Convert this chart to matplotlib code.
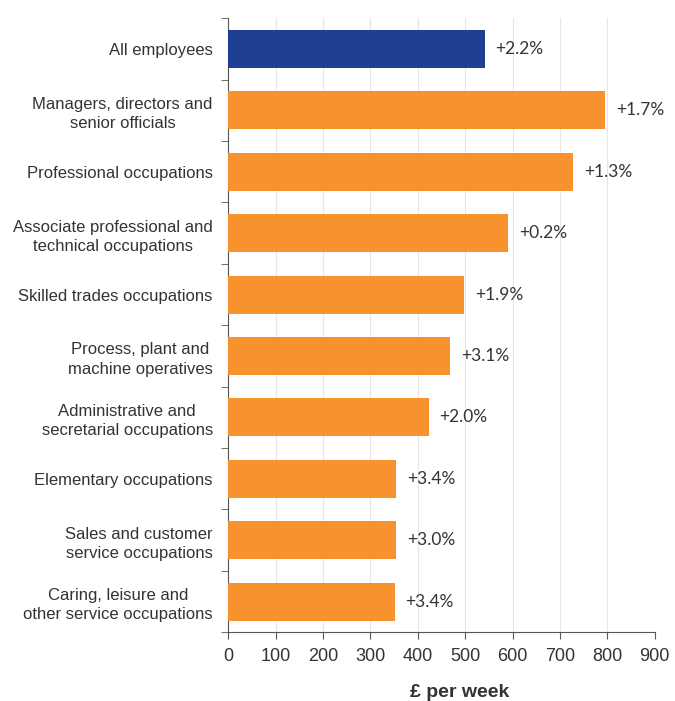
import numpy as np
from matplotlib import pyplot as plt

categories = [
	"All employees",
	"Managers, directors and\nsenior officials",
	"Professional occupations",
	"Associate professional and\ntechnical occupations",
	"Skilled trades occupations",
	"Process, plant and\nmachine operatives",
	"Administrative and\nsecretarial occupations",
	"Elementary occupations",
	"Sales and customer\nservice occupations",
	"Caring, leisure and\nother service occupations",
]
weekly_pay = [541, 796, 727, 591, 498, 469, 423, 355, 355, 351]
growth = ["+2.2%", "+1.7%", "+1.3%", "+0.2%", "+1.9%", "+3.1%", "+2.0%", "+3.4%", "+3.0%", "+3.4%"]

NAVY = "#1f3f94"
ORANGE = "#f7922f"
TEXT = "#333333"

fig = plt.figure(figsize=(6.75, 7.01), dpi=100)
ax = fig.add_axes([0.338, 0.098, 0.632, 0.876])

y = np.arange(len(categories))
colors = [NAVY] + [ORANGE] * (len(categories) - 1)
ax.barh(y, weekly_pay, height=0.62, color=colors, zorder=3)

for yi, v, g in zip(y, weekly_pay, growth):
	ax.text(v + 23, yi, g, va="center", ha="left", fontsize=12.5,
		family="Lato", color=TEXT)

ax.set_ylim(len(categories) - 0.5, -0.5)
ax.set_xlim(0, 900)
ax.set_xticks(range(0, 901, 100))
ax.tick_params(axis="x", labelsize=13, colors="#555555", length=5, direction="out", pad=6)
for lab in ax.get_xticklabels():
	lab.set_family("Liberation Sans")
	lab.set_color(TEXT)

ax.set_yticks(y)
ax.set_yticklabels(categories, family="Liberation Sans", fontsize=12, color=TEXT,
	multialignment="center", linespacing=1.35)
ax.tick_params(axis="y", length=0, pad=11)
ax.set_yticks(np.arange(-0.5, len(categories), 1), minor=True)
ax.tick_params(axis="y", which="minor", length=5, color="#555555")

ax.grid(axis="x", color="#e6e6e6", linewidth=0.8, zorder=0)
for s in ["top", "right"]:
	ax.spines[s].set_visible(False)
ax.spines["left"].set_color("#555555")
ax.spines["bottom"].set_color("#555555")

ax.set_xlabel("£ per week", family="Liberation Sans", fontsize=14,
	fontweight="bold", color=TEXT)
ax.xaxis.set_label_coords(0.543, -0.085)

fig.savefig("out.png", dpi=100)
